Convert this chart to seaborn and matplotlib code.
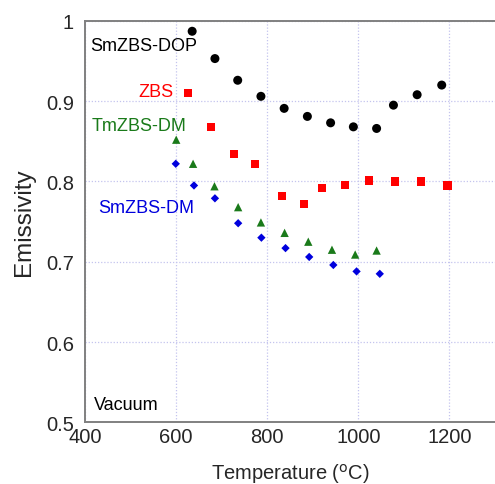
import matplotlib
matplotlib.use("Agg")
import matplotlib.pyplot as plt
import seaborn as sns
import pandas as pd

# Data
dop_T = [635, 685, 735, 786, 837, 888, 939, 989, 1040, 1077, 1129, 1183]
dop_E = [0.987, 0.953, 0.926, 0.906, 0.891, 0.881, 0.873, 0.868, 0.866, 0.895, 0.908, 0.920]

zbs_T = [626, 676, 727, 773, 832, 881, 920, 971, 1024, 1081, 1137, 1196]
zbs_E = [0.910, 0.868, 0.834, 0.822, 0.782, 0.772, 0.792, 0.796, 0.801, 0.800, 0.800, 0.795]

tm_T = [600, 637, 684, 736, 786, 838, 890, 942, 993, 1040]
tm_E = [0.852, 0.822, 0.794, 0.768, 0.749, 0.736, 0.725, 0.715, 0.709, 0.714]

smdm_T = [599, 639, 685, 736, 787, 840, 892, 945, 996, 1047]
smdm_E = [0.822, 0.795, 0.779, 0.748, 0.730, 0.717, 0.706, 0.696, 0.688, 0.685]

series_names = ["SmZBS-DOP", "ZBS", "TmZBS-DM", "SmZBS-DM"]
x_ticks = [400, 600, 800, 1000, 1200]
y_ticks = [0.5, 0.6, 0.7, 0.8, 0.9, 1.0]
y_tick_labels = ["0.5", "0.6", "0.7", "0.8", "0.9", "1"]

df = pd.concat([
    pd.DataFrame({"T": dop_T, "E": dop_E, "s": series_names[0]}),
    pd.DataFrame({"T": zbs_T, "E": zbs_E, "s": series_names[1]}),
    pd.DataFrame({"T": tm_T, "E": tm_E, "s": series_names[2]}),
    pd.DataFrame({"T": smdm_T, "E": smdm_E, "s": series_names[3]}),
])

sns.set_style("white")
plt.rcParams["font.family"] = ["Liberation Sans", "DejaVu Sans"]

fig = plt.figure(figsize=(4.95, 4.85), dpi=100)
ax = fig.add_axes([0.172, 0.127, 0.828, 0.828])

palette = {"SmZBS-DOP": "black", "ZBS": "#ff0000", "TmZBS-DM": "#1a7a1a", "SmZBS-DM": "#0000dd"}
markers = {"SmZBS-DOP": "o", "ZBS": "s", "TmZBS-DM": "^", "SmZBS-DM": "D"}
sizes = {"SmZBS-DOP": 42, "ZBS": 36, "TmZBS-DM": 36, "SmZBS-DM": 18}

for name in series_names:
    sub = df[df["s"] == name]
    sns.scatterplot(data=sub, x="T", y="E", color=palette[name], marker=markers[name],
                    s=sizes[name], edgecolor="none", linewidth=0, ax=ax, legend=False,
                    zorder=3)

ax.set_xlim(400, 1300)
ax.set_ylim(0.5, 1.0)
ax.set_xticks(x_ticks)
ax.set_yticks(y_ticks)
ax.set_yticklabels(y_tick_labels)
ax.grid(True, linestyle=(0, (1, 1.5)), color="#c4c4ee", linewidth=0.9)
ax.set_axisbelow(True)
ax.tick_params(axis="both", length=0, labelsize=14.5)
ax.tick_params(axis="y", pad=8)
ax.tick_params(axis="x", pad=3)
for sp in ["left", "bottom", "top"]:
    ax.spines[sp].set_color("#808080")
    ax.spines[sp].set_linewidth(1.4)
ax.spines["right"].set_visible(False)

ax.set_xlabel(r"Temperature ($^{\rm o}$C)", fontsize=14.5, labelpad=11)
ax.set_ylabel("Emissivity", fontsize=17.5, labelpad=8)

ax.text(411, 0.969, "SmZBS-DOP", color="black", fontsize=13, va="center", ha="left")
ax.text(593, 0.912, "ZBS", color="#ff0000", fontsize=13, va="center", ha="right")
ax.text(414, 0.870, "TmZBS-DM", color="#1a7a1a", fontsize=13, va="center", ha="left")
ax.text(428, 0.767, "SmZBS-DM", color="#0000dd", fontsize=13, va="center", ha="left")
ax.text(419, 0.522, "Vacuum", color="black", fontsize=13, va="center", ha="left")

fig.savefig("out.png", dpi=100)
